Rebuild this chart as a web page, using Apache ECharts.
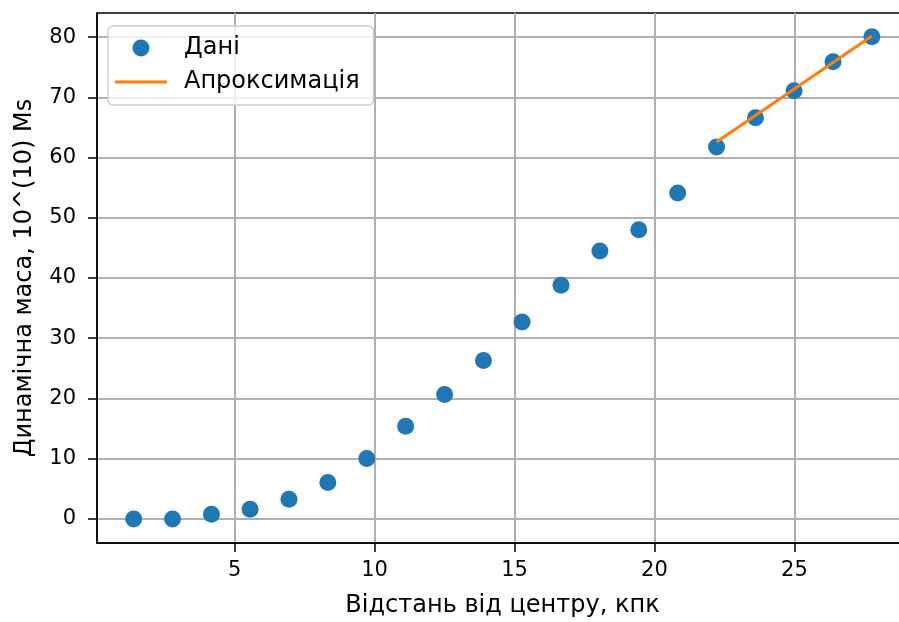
<!DOCTYPE html>
<html>
<head>
<meta charset="utf-8">
<script src="https://cdn.jsdelivr.net/npm/echarts@6/dist/echarts.min.js"></script>
<style>html,body{margin:0;padding:0;background:#fff}#c{width:899px;height:622px}</style>
</head>
<body>
<div id="c"></div>
<script>
const xs = [1.39, 2.78, 4.17, 5.55, 6.94, 8.33, 9.72, 11.11, 12.50, 13.89, 15.27, 16.66, 18.05, 19.44, 20.83, 22.22, 23.61, 24.99, 26.38, 27.77];
const ys = [0, 0, 0.77, 1.6, 3.26, 6.04, 10.04, 15.39, 20.66, 26.3, 32.7, 38.8, 44.5, 48.0, 54.1, 61.74, 66.6, 71.08, 75.9, 80.05];
const fitX = [22.22, 27.77];
const fitY = [62.6, 80.2];
const xTicks = [5, 10, 15, 20, 25];
const yTicks = [0, 10, 20, 30, 40, 50, 60, 70, 80];
const seriesNames = ['Дані', 'Апроксимація'];
const xTitle = 'Відстань від центру, кпк';
const yTitle = 'Динамічна маса, 10^(10) Ms';

const FONT = 'DejaVu Sans';
const FS = 24;
const TFS = 21;
const chart = echarts.init(document.getElementById('c'), null, {renderer: 'canvas'});
chart.setOption({
  animation: false,
  textStyle: {fontFamily: FONT},
  grid: {left: 97, right: -9, top: 13, bottom: 79, outerBoundsMode: 'none', containLabel: false,
         show: true, borderColor: '#000', borderWidth: 1.5, backgroundColor: 'transparent'},
  legend: {
    orient: 'vertical', left: 108, top: 26,
    padding: [10, 14, 11, 7],
    itemWidth: 52, itemHeight: 17, itemGap: 10,
    borderColor: '#cccccc', borderWidth: 1.3, borderRadius: 5,
    backgroundColor: 'rgba(255,255,255,0.8)',
    textStyle: {fontFamily: FONT, fontSize: FS, lineHeight: 24, color: '#000', padding: [0, 0, 0, 12]},
    data: [
      {name: seriesNames[0], icon: 'circle'},
      {name: seriesNames[1], icon: 'path://M0,0 L52,0 L52,3.2 L0,3.2 Z', itemStyle: {color: '#ff7f0e'}}
    ]
  },
  xAxis: {
    type: 'value', min: 0.08, max: 29.06,
    name: xTitle, nameLocation: 'middle', nameGap: 51,
    nameTextStyle: {fontFamily: FONT, fontSize: FS, color: '#000'},
    axisLine: {show: true, onZero: false, lineStyle: {color: '#000', width: 1.5}},
    axisTick: {show: true, length: 9, customValues: xTicks, lineStyle: {color: '#000', width: 1.5}},
    axisLabel: {customValues: xTicks, margin: 17, fontFamily: FONT, fontSize: TFS, color: '#000'},
    splitLine: {show: true, lineStyle: {color: '#b0b0b0', width: 2}}
  },
  yAxis: {
    type: 'value', min: -4, max: 84,
    name: yTitle, nameLocation: 'middle', nameGap: 60, nameRotate: 90,
    nameTextStyle: {fontFamily: FONT, fontSize: FS, color: '#000'},
    axisLine: {show: true, onZero: false, lineStyle: {color: '#000', width: 1.5}},
    axisTick: {show: true, length: 9, customValues: yTicks, lineStyle: {color: '#000', width: 1.5}},
    axisLabel: {customValues: yTicks, margin: 21, fontFamily: FONT, fontSize: TFS, color: '#000'},
    splitLine: {show: true, lineStyle: {color: '#b0b0b0', width: 2}}
  },
  series: [
    {
      name: seriesNames[0], type: 'scatter', symbol: 'circle', symbolSize: 17,
      itemStyle: {color: '#1f77b4', opacity: 1},
      data: xs.map((x, i) => [x, ys[i]]), z: 2
    },
    {
      name: seriesNames[1], type: 'line', symbol: 'none', showSymbol: false,
      lineStyle: {color: '#ff7f0e', width: 3},
      itemStyle: {color: '#ff7f0e'},
      data: fitX.map((x, i) => [x, fitY[i]]), z: 3
    }
  ]
});
</script>
</body>
</html>
